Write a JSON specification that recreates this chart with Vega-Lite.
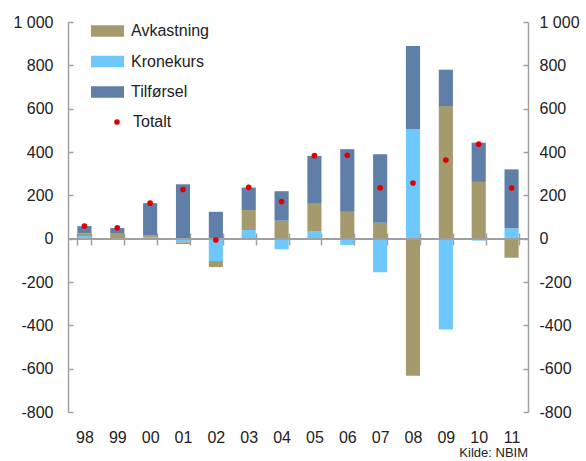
{
  "$schema": "https://vega.github.io/schema/vega-lite/v6.json",
  "width": 460,
  "height": 390,
  "autosize": {"type": "none"},
  "padding": {"left": 68, "top": 22, "right": 58, "bottom": 49},
  "background": "white",
  "title": {"text": "Kilde: NBIM", "orient": "bottom", "anchor": "end", "frame": "group", "offset": 2, "fontSize": 13, "fontWeight": "normal", "color": "#222", "font": "Liberation Sans"},
  "datasets": {
    "bars": [
      {"aar": "98", "serie": "Kronekurs", "verdi": 12}, {"aar": "98", "serie": "Avkastning", "verdi": 13}, {"aar": "98", "serie": "Tilførsel", "verdi": 33},
      {"aar": "99", "serie": "Kronekurs", "verdi": 2}, {"aar": "99", "serie": "Avkastning", "verdi": 24}, {"aar": "99", "serie": "Tilførsel", "verdi": 23},
      {"aar": "00", "serie": "Kronekurs", "verdi": 8}, {"aar": "00", "serie": "Avkastning", "verdi": 6}, {"aar": "00", "serie": "Tilførsel", "verdi": 150},
      {"aar": "01", "serie": "Kronekurs", "verdi": -17}, {"aar": "01", "serie": "Avkastning", "verdi": -8}, {"aar": "01", "serie": "Tilførsel", "verdi": 251},
      {"aar": "02", "serie": "Kronekurs", "verdi": -103}, {"aar": "02", "serie": "Avkastning", "verdi": -28}, {"aar": "02", "serie": "Tilførsel", "verdi": 124},
      {"aar": "03", "serie": "Kronekurs", "verdi": 40}, {"aar": "03", "serie": "Avkastning", "verdi": 92}, {"aar": "03", "serie": "Tilførsel", "verdi": 104},
      {"aar": "04", "serie": "Kronekurs", "verdi": -49}, {"aar": "04", "serie": "Avkastning", "verdi": 83}, {"aar": "04", "serie": "Tilførsel", "verdi": 136},
      {"aar": "05", "serie": "Kronekurs", "verdi": 35}, {"aar": "05", "serie": "Avkastning", "verdi": 126}, {"aar": "05", "serie": "Tilførsel", "verdi": 221},
      {"aar": "06", "serie": "Kronekurs", "verdi": -29}, {"aar": "06", "serie": "Avkastning", "verdi": 124}, {"aar": "06", "serie": "Tilførsel", "verdi": 289},
      {"aar": "07", "serie": "Kronekurs", "verdi": -155}, {"aar": "07", "serie": "Avkastning", "verdi": 74}, {"aar": "07", "serie": "Tilførsel", "verdi": 316},
      {"aar": "08", "serie": "Kronekurs", "verdi": 506}, {"aar": "08", "serie": "Avkastning", "verdi": -633}, {"aar": "08", "serie": "Tilførsel", "verdi": 383},
      {"aar": "09", "serie": "Kronekurs", "verdi": -419}, {"aar": "09", "serie": "Avkastning", "verdi": 612}, {"aar": "09", "serie": "Tilførsel", "verdi": 168},
      {"aar": "10", "serie": "Kronekurs", "verdi": -9}, {"aar": "10", "serie": "Avkastning", "verdi": 262}, {"aar": "10", "serie": "Tilførsel", "verdi": 181},
      {"aar": "11", "serie": "Kronekurs", "verdi": 48}, {"aar": "11", "serie": "Avkastning", "verdi": -88}, {"aar": "11", "serie": "Tilførsel", "verdi": 272}
    ],
    "totalt": [
      {"aar": "98", "totalt": 58}, {"aar": "99", "totalt": 50}, {"aar": "00", "totalt": 164}, {"aar": "01", "totalt": 227},
      {"aar": "02", "totalt": -6}, {"aar": "03", "totalt": 237}, {"aar": "04", "totalt": 171}, {"aar": "05", "totalt": 383},
      {"aar": "06", "totalt": 385}, {"aar": "07", "totalt": 235}, {"aar": "08", "totalt": 257}, {"aar": "09", "totalt": 363},
      {"aar": "10", "totalt": 436}, {"aar": "11", "totalt": 234}
    ]
  },
  "config": {
    "font": "Liberation Sans",
    "view": {"stroke": null},
    "axis": {"labelFont": "Liberation Sans", "labelFontSize": 16, "labelColor": "#222", "domainColor": "#a0a0a0", "tickColor": "#a0a0a0", "grid": false, "title": null, "domainWidth": 1.5, "tickWidth": 1.5},
    "axisLeft": {"labelPadding": 20, "tickSize": -5},
    "axisRight": {"labelPadding": 16, "tickSize": -5}
  },
  "resolve": {"scale": {"y": "independent"}},
  "layer": [
    {
      "data": {"name": "bars"},
      "transform": [{"calculate": "indexof(['Kronekurs', 'Avkastning', 'Tilførsel'], datum.serie)", "as": "stabel"}],
      "layer": [
        {
          "mark": {"type": "bar"},
          "encoding": {
            "x": {"field": "aar", "type": "nominal", "sort": null, "scale": {"paddingInner": 0.57, "paddingOuter": 0.285},
              "axis": {"orient": "bottom", "labelAngle": 0, "domain": false, "offset": -179, "tickSize": 12, "tickBand": "extent", "labelPadding": 184}},
            "y": {"field": "verdi", "type": "quantitative", "stack": "zero", "scale": {"domain": [-800, 1000], "nice": false},
              "axis": {"orient": "left", "values": [-800, -600, -400, -200, 0, 200, 400, 600, 800, 1000], "labelExpr": "datum.value == 1000 ? '1 000' : '' + datum.value"}},
            "order": {"field": "stabel", "type": "quantitative", "sort": "ascending"},
            "color": {"field": "serie", "type": "nominal",
              "scale": {"domain": ["Avkastning", "Kronekurs", "Tilførsel"], "range": ["#a49a6e", "#6ec8fd", "#607fa8"]},
              "legend": {"orient": "none", "legendX": 23, "legendY": -7.5, "title": null, "symbolType": "M-1,-0.35H1V0.35H-1Z", "symbolSize": 1089, "symbolStrokeWidth": 0, "symbolOpacity": 1, "labelFontSize": 16, "labelColor": "#222", "labelOffset": 7, "rowPadding": 5.5, "padding": 0}}
          }
        },
        {
          "mark": {"type": "rule", "color": "#a0a0a0", "strokeWidth": 1.5},
          "encoding": {"y": {"datum": 0, "type": "quantitative"}}
        }
      ]
    },
    {
      "data": {"name": "totalt"},
      "mark": {"type": "point", "filled": true, "color": "#e00000", "size": 32, "opacity": 1},
      "encoding": {
        "x": {"field": "aar", "type": "nominal", "sort": null},
        "y": {"field": "totalt", "type": "quantitative", "scale": {"domain": [-800, 1000], "nice": false},
          "axis": {"orient": "right", "values": [-800, -600, -400, -200, 0, 200, 400, 600, 800, 1000], "labelExpr": "datum.value == 1000 ? '1 000' : '' + datum.value"}},
        "shape": {"datum": "Totalt", "type": "nominal", "scale": {"range": ["circle"]},
          "legend": {"orient": "none", "legendX": 41, "legendY": 92, "title": null, "symbolSize": 32, "symbolFillColor": "#e00000", "symbolStrokeWidth": 0, "symbolOpacity": 1, "labelFontSize": 16, "labelColor": "#222", "labelOffset": 8, "padding": 0}}
      }
    }
  ]
}
